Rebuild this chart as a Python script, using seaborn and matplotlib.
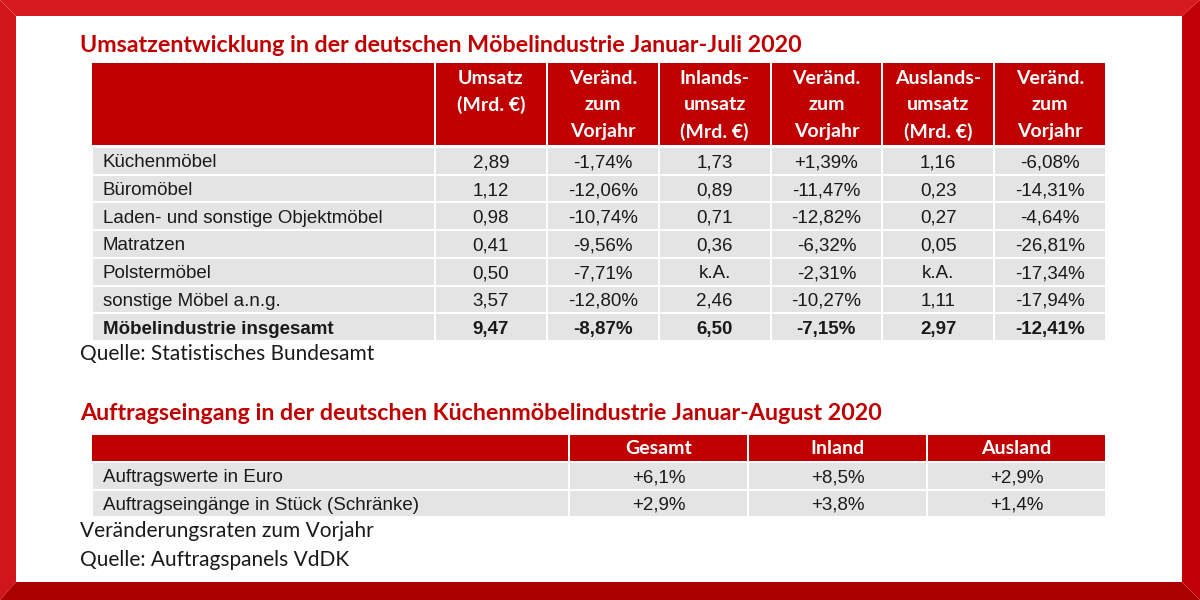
import numpy as np
import seaborn as sns
import matplotlib.pyplot as plt
from matplotlib.colors import ListedColormap
from matplotlib.patches import Polygon, Rectangle

# Table 1: Umsatzentwicklung Januar-Juli 2020
categories = ["Küchenmöbel", "Büromöbel", "Laden- und sonstige Objektmöbel",
              "Matratzen", "Polstermöbel", "sonstige Möbel a.n.g.",
              "Möbelindustrie insgesamt"]
umsatz = [2.89, 1.12, 0.98, 0.41, 0.50, 3.57, 9.47]
umsatz_chg = [-1.74, -12.06, -10.74, -9.56, -7.71, -12.80, -8.87]
inland = [1.73, 0.89, 0.71, 0.36, None, 2.46, 6.50]
inland_chg = [1.39, -11.47, -12.82, -6.32, -2.31, -10.27, -7.15]
ausland = [1.16, 0.23, 0.27, 0.05, None, 1.11, 2.97]
ausland_chg = [-6.08, -14.31, -4.64, -26.81, -17.34, -17.94, -12.41]
headers1 = [["Umsatz", "(Mrd. €)"], ["Veränd.", "zum", "Vorjahr"],
            ["Inlands-", "umsatz", "(Mrd. €)"], ["Veränd.", "zum", "Vorjahr"],
            ["Auslands-", "umsatz", "(Mrd. €)"], ["Veränd.", "zum", "Vorjahr"]]

# Table 2: Auftragseingang Januar-August 2020
orders = ["Auftragswerte in Euro", "Auftragseingänge in Stück (Schränke)"]
gesamt = [6.1, 2.9]
inland2 = [8.5, 3.8]
ausland2 = [2.9, 1.4]
headers2 = ["Gesamt", "Inland", "Ausland"]

RED = "#c00000"
GREY = "#e4e4e4"
TXT = "#1a1a1a"
HEAD_FONT = "Lato"
BODY_FONT = "Liberation Sans"
BODY_SIZE = 13.5


def num(v):
    return "k.A." if v is None else f"{v:.2f}".replace(".", ",")


def pct(v, d=2):
    s = f"{v:+.{d}f}%" if v > 0 else f"{v:.{d}f}%"
    return s.replace(".", ",")


sns.set_theme(style="white")
W, H = 1200, 600
fig = plt.figure(figsize=(12, 6), dpi=100)
bg = fig.add_axes([0, 0, 1, 1])
bg.set_xlim(0, W)
bg.set_ylim(H, 0)
bg.axis("off")


def box_axes(x0, y0, x1, y1):
    return fig.add_axes([x0 / W, 1 - y1 / H, (x1 - x0) / W, (y1 - y0) / H])


# bevelled red frame
b = 16
bg.add_patch(Polygon([(0, 0), (W, 0), (W - 18, b), (b, b)], color="#d81a1f", lw=0))
bg.add_patch(Polygon([(0, 0), (b, b), (b, H - 18), (0, H)], color="#d0161b", lw=0))
bg.add_patch(Polygon([(W, 0), (W - 18, b), (W - 18, H - 18), (W, H)], color="#c00006", lw=0))
bg.add_patch(Polygon([(0, H), (b, H - 18), (W - 18, H - 18), (W, H)], color="#a90000", lw=0))

# ---- table 1 ----
bg.text(80, 45, "Umsatzentwicklung in der deutschen Möbelindustrie Januar-Juli 2020",
        color=RED, fontsize=16.75, fontweight="bold", family=HEAD_FONT, va="center")

t1_left, t1_split, t1_right = 92, 435, 1106
t1_head_top, t1_head_bot = 63, 145
t1_body_top, t1_body_bot = 147, 341
col_w = (t1_right - t1_split) / len(headers1)

bg.add_patch(Rectangle((t1_left, t1_head_top), t1_split - t1_left - 1,
                       t1_head_bot - t1_head_top, color=RED, lw=0))
for j, lines in enumerate(headers1):
    x0 = t1_split + j * col_w
    bg.add_patch(Rectangle((x0 + 1, t1_head_top), col_w - 2,
                           t1_head_bot - t1_head_top, color=RED, lw=0))
    for k, line in enumerate(lines):
        bg.text(x0 + col_w / 2, 78 + 27 * k, line, color="white", fontsize=14,
                fontweight="bold", family=HEAD_FONT, ha="center", va="center")

cells1 = np.array([[num(a), pct(b_), num(c), pct(d), num(e), pct(f)]
                   for a, b_, c, d, e, f in zip(umsatz, umsatz_chg, inland,
                                                inland_chg, ausland, ausland_chg)])
grey = ListedColormap([GREY])

ax_lab = box_axes(t1_left, t1_body_top, t1_split, t1_body_bot)
sns.heatmap(np.ones((len(categories), 1)), ax=ax_lab, cmap=grey, cbar=False,
            linewidths=1.2, linecolor="white", xticklabels=False, yticklabels=False)
for i, cat in enumerate(categories):
    ax_lab.text(0.032, i + 0.5, cat, fontsize=BODY_SIZE, color=TXT, family=BODY_FONT,
                ha="left", va="center_baseline",
                fontweight="bold" if i == len(categories) - 1 else "normal")

ax_val = box_axes(t1_split, t1_body_top, t1_right, t1_body_bot)
sns.heatmap(np.ones(cells1.shape), ax=ax_val, cmap=grey, cbar=False,
            annot=cells1, fmt="", linewidths=1.2, linecolor="white",
            annot_kws={"fontsize": BODY_SIZE, "color": TXT, "family": BODY_FONT},
            xticklabels=False, yticklabels=False)
for t in ax_val.texts:
    t.set_va("center_baseline")
    if t.get_position()[1] > len(categories) - 1:
        t.set_fontweight("bold")

bg.text(80, 354, "Quelle: Statistisches Bundesamt", fontsize=15,
        family=HEAD_FONT, color=TXT, va="center")

# ---- table 2 ----
bg.text(80, 413, "Auftragseingang in der deutschen Küchenmöbelindustrie Januar-August 2020",
        color=RED, fontsize=16.75, fontweight="bold", family=HEAD_FONT, va="center")

t2_left, t2_split, t2_right = 92, 569, 1106
t2_head_top, t2_head_bot = 435, 461
t2_body_top, t2_body_bot = 462, 517
col_w2 = (t2_right - t2_split) / len(headers2)

bg.add_patch(Rectangle((t2_left, t2_head_top), t2_split - t2_left - 1,
                       t2_head_bot - t2_head_top, color=RED, lw=0))
for j, head in enumerate(headers2):
    x0 = t2_split + j * col_w2
    bg.add_patch(Rectangle((x0 + 1, t2_head_top), col_w2 - 2,
                           t2_head_bot - t2_head_top, color=RED, lw=0))
    bg.text(x0 + col_w2 / 2, 449, head, color="white", fontsize=14,
            fontweight="bold", family=HEAD_FONT, ha="center", va="center")

cells2 = np.array([[pct(g, 1), pct(i_, 1), pct(a, 1)]
                   for g, i_, a in zip(gesamt, inland2, ausland2)])

ax_lab2 = box_axes(t2_left, t2_body_top, t2_split, t2_body_bot)
sns.heatmap(np.ones((len(orders), 1)), ax=ax_lab2, cmap=grey, cbar=False,
            linewidths=1.2, linecolor="white", xticklabels=False, yticklabels=False)
for i, lab in enumerate(orders):
    ax_lab2.text(11 / (t2_split - t2_left), i + 0.5, lab, fontsize=BODY_SIZE, color=TXT,
                 family=BODY_FONT, ha="left", va="center_baseline")

ax_val2 = box_axes(t2_split, t2_body_top, t2_right, t2_body_bot)
sns.heatmap(np.ones(cells2.shape), ax=ax_val2, cmap=grey, cbar=False,
            annot=cells2, fmt="", linewidths=1.2, linecolor="white",
            annot_kws={"fontsize": BODY_SIZE, "color": TXT, "family": BODY_FONT},
            xticklabels=False, yticklabels=False)
for t in ax_val2.texts:
    t.set_va("center_baseline")

bg.text(80, 531, "Veränderungsraten zum Vorjahr", fontsize=15,
        family=HEAD_FONT, color=TXT, va="center")
bg.text(80, 560, "Quelle: Auftragspanels VdDK", fontsize=15,
        family=HEAD_FONT, color=TXT, va="center")

fig.savefig("out.png", dpi=100)
